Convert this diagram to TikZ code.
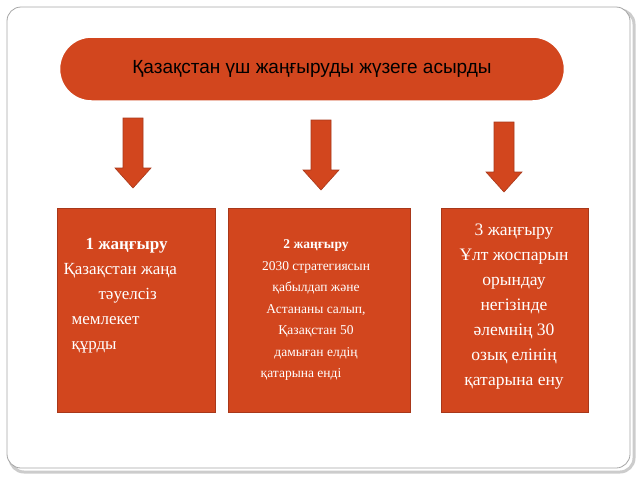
\documentclass[tikz,border=0pt]{standalone}
\usepackage{fontspec}
\setmainfont{Liberation Serif}
\newfontfamily\headfont{Liberation Sans}
\definecolor{brick}{HTML}{D2461E}
\definecolor{brickdark}{HTML}{A8381A}
\tikzset{
  stepbox/.style={draw=brickdark, fill=brick, text=white, align=center, inner sep=2pt},
  downarrow/.style={draw=brickdark, fill=brick, line width=0.6pt}
}
\newcommand{\blockarrow}[2]{%
  \draw[downarrow] (#1-10,#2) -- (#1+10,#2) -- (#1+10,#2+50) -- (#1+18,#2+50)
    -- (#1,#2+70) -- (#1-18,#2+50) -- (#1-10,#2+50) -- cycle;}
\begin{document}
\begin{tikzpicture}[x=1pt,y=-1pt]
\useasboundingbox (0,0) rectangle (640,480);
% frame
\draw[rounded corners=14pt, draw=gray!40, line width=3pt] (10,10) rectangle (634,472);
\draw[rounded corners=14pt, draw=gray!70, fill=white, line width=0.8pt] (7,7) rectangle (630,468);
% title
\node[stepbox, draw=white, line width=1.5pt, rounded corners=32pt, minimum width=505pt, minimum height=64pt,
  text=black, font=\headfont\fontsize{19}{22}\selectfont] (title) at (312,69) {Қазақстан үш жаңғыруды жүзеге асырды};
% arrows
\blockarrow{133}{118}
\blockarrow{321}{120}
\blockarrow{504}{122}
% boxes
\node[stepbox, minimum width=158pt, minimum height=204pt, font=\fontsize{17}{25}\selectfont, anchor=north west] (s1) at (57,208) {};
\node[anchor=north west, align=left, text=white, font=\fontsize{17}{25}\selectfont] at (60,235)
  {\hspace*{22pt}\textbf{1 жаңғыру}\\ Қазақстан жаңа\\ \hspace*{35pt}тәуелсіз\\ \hspace*{8pt}мемлекет\\ \hspace*{8pt}құрды};
\node[stepbox, minimum width=182pt, minimum height=204pt, anchor=north west] (s2) at (228,208) {};
\node[align=center, text=white, font=\fontsize{13.5}{21.5}\selectfont] at (316,310)
  {\textbf{2 жаңғыру}\\ 2030 стратегиясын\\ қабылдап және\\ Астананы салып,\\ Қазақстан 50\\ дамыған елдің\\ қатарына енді\hspace*{30pt}};
\node[stepbox, minimum width=147pt, minimum height=204pt, anchor=north west] (s3) at (441,208) {};
\node[align=center, text=white, font=\fontsize{17.5}{25}\selectfont] at (514,307)
  {3 жаңғыру\\ Ұлт жоспарын\\ орындау\\ негізінде\\ әлемнің 30\\ озық елінің\\ қатарына ену};
\end{tikzpicture}
\end{document}
